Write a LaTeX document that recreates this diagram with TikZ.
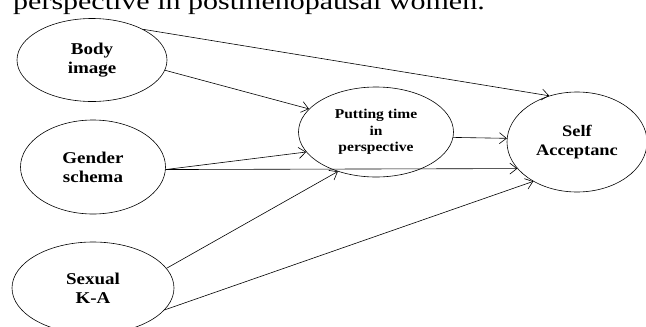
\documentclass[tikz,border=0pt]{standalone}
\usepackage{fontspec}
\setmainfont[FakeStretch=1.15]{Liberation Serif}
\newfontfamily\capfont[FakeStretch=1.25]{Liberation Serif}
\usepackage{tikz}
\usetikzlibrary{shapes.geometric, arrows.meta}
\tikzstyle{var} = [ellipse, minimum width=145pt, minimum height=94pt, text centered, align=center, draw=black, line width=0.6pt, font=\fontsize{16.5}{19}\selectfont\bfseries]
\tikzstyle{arrow} = [line width=0.6pt,-{Straight Barb[length=7pt,width=11pt]}]

\begin{document}
\begin{tikzpicture}[x=1pt,y=-1pt]

   \useasboundingbox (0,0) rectangle (646,327);
   \node (cap) [anchor=base west, inner sep=0pt] at (13,9) {\capfont\fontsize{24}{28}\selectfont perspective in postmenopausal women.};

   \node (body) [var, minimum width=150pt, minimum height=83pt] at (92,60) {Body\\image};
   \node (gender) [var, below of=body, node distance=107pt, xshift=1pt] {Gender\\schema};
   \node (sexual) [var, below of=gender, node distance=121pt, minimum width=162pt, minimum height=92pt] {Sexual\\K-A};
   \node (time) [var, right of=gender, node distance=283pt, yshift=35pt, minimum width=155pt, minimum height=90pt, font=\fontsize{13.5}{16.5}\selectfont\bfseries] {Putting time\\in\\perspective};
   \node (self) [var, right of=time, node distance=201pt, yshift=-10pt, minimum width=140pt, minimum height=100pt, font=\fontsize{16}{19}\selectfont\bfseries] {Self\\Acceptanc};

   \draw [arrow] (body.31) -- (self.121);
   \draw [arrow] (body.-8) -- (time.161);
   \draw [arrow] (gender.-2) -- (time.196);
   \draw [arrow] (gender.-2) -- (self.204);
   \draw [arrow] (sexual.15) -- (time.226);
   \draw [arrow] (sexual.-17) -- (self.222);
   \draw [arrow] (time.-4) -- (self.177);
   \end{tikzpicture}
\end{document}
